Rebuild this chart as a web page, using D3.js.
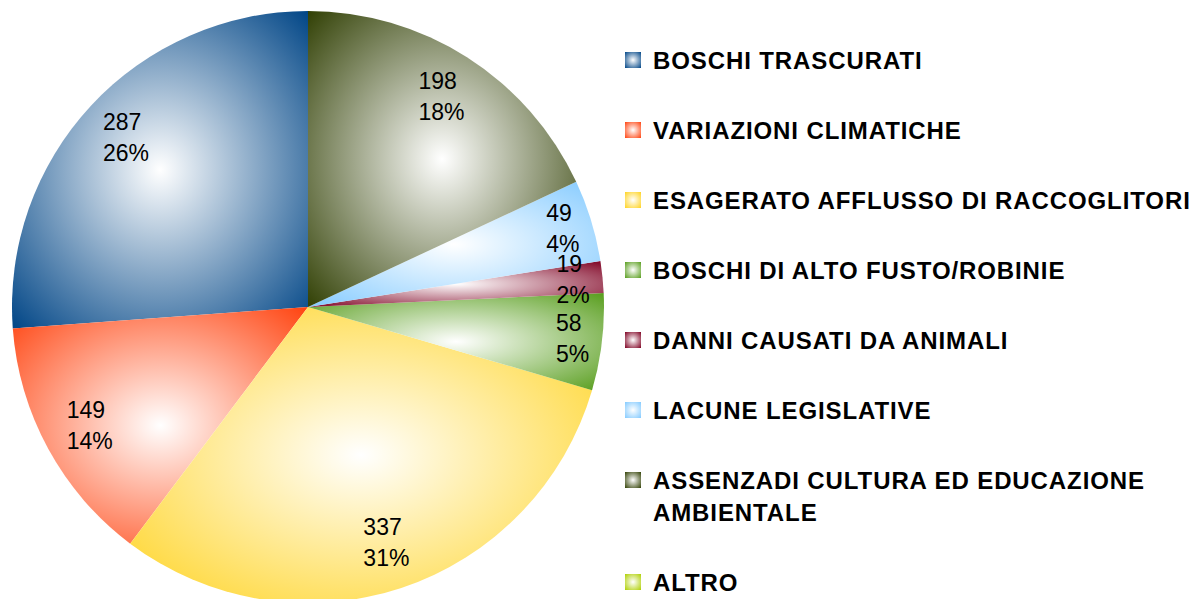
<!DOCTYPE html>
<html>
<head>
<meta charset="utf-8">
<script src="https://cdn.jsdelivr.net/npm/d3@7"></script>
<style>
  body { margin: 0; background: #fff; }
  svg { display: block; }
</style>
</head>
<body>
<div id="chart"></div>
<script>
// categories in legend order
const categories = [
    ['BOSCHI TRASCURATI'],
    ['VARIAZIONI CLIMATICHE'],
    ['ESAGERATO AFFLUSSO DI RACCOGLITORI'],
    ['BOSCHI DI ALTO FUSTO/ROBINIE'],
    ['DANNI CAUSATI DA ANIMALI'],
    ['LACUNE LEGISLATIVE'],
    ['ASSENZADI CULTURA ED EDUCAZIONE', 'AMBIENTALE'],
    ['ALTRO']
];
const values = [287, 149, 337, 58, 19, 49, 198, 0];
const colors = ['#004586', '#ff420e', '#ffd320', '#579d1c', '#7e0021', '#83caff', '#314004', '#aecf00'];

drawPie('#chart');

function drawPie(el) {
    const pageWidth = 1200;
    const pageHeight = 599;
    const cx = 308, cy = 307, radius = 296;
    const legendX = 625, legendTop = 60, legendStep = 70, lineStep = 32;

    const svg = d3.select(el).append('svg')
        .attr('width', pageWidth)
        .attr('height', pageHeight);

    const defs = svg.append('defs');
    colors.forEach((c, i) => {
        const g = defs.append('radialGradient')
            .attr('id', 'grad' + i)
            .attr('cx', '50%').attr('cy', '50%').attr('r', '70.7%');
        g.append('stop').attr('offset', '0%').attr('stop-color', '#ffffff');
        g.append('stop').attr('offset', '100%').attr('stop-color', c);
    });

    const total = d3.sum(values);
    const data = values.map((v, i) => ({ value: v, index: i }));

    // counterclockwise from 12 o'clock
    const pie = d3.pie().value(d => d.value).sort(null)
        .startAngle(0).endAngle(-2 * Math.PI);
    const arcs = pie(data);

    const arc = d3.arc().innerRadius(0).outerRadius(radius);

    const g = svg.append('g').attr('transform', 'translate(' + cx + ',' + cy + ')');

    g.selectAll('path.slice')
        .data(arcs.filter(d => d.data.value > 0))
        .enter().append('path')
        .attr('class', 'slice')
        .attr('d', arc)
        .attr('fill', d => 'url(#grad' + d.data.index + ')');

    // small slices get their labels a bit further out
    const labelArc = d => {
        const r = d.data.value / total < 0.1 ? radius * 0.9 : radius * 0.84;
        return d3.arc().innerRadius(r).outerRadius(r).centroid(d);
    };

    const labels = g.selectAll('text.lbl')
        .data(arcs.filter(d => d.data.value > 0))
        .enter().append('text')
        .attr('class', 'lbl')
        .style('font-family', '"Liberation Sans", Arial, sans-serif')
        .style('font-size', '23px')
        .attr('fill', '#000');

    labels.each(function(d) {
        const p = labelArc(d);
        const t = d3.select(this);
        t.append('tspan').attr('x', 0).attr('y', p[1] - 8).text(d.data.value);
        t.append('tspan').attr('x', 0).attr('y', p[1] + 23).text(Math.round(d.data.value / total * 100) + '%');
        const w = this.getBBox().width;
        t.selectAll('tspan').attr('x', p[0] - w / 2);
    });

    // legend
    const yPos = [];
    let y = legendTop;
    categories.forEach(lines => {
        yPos.push(y);
        y += legendStep + (lines.length - 1) * lineStep;
    });

    const legend = svg.append('g').selectAll('g')
        .data(categories)
        .enter().append('g')
        .attr('transform', (d, i) => 'translate(' + legendX + ',' + yPos[i] + ')');

    legend.append('rect')
        .attr('x', 0).attr('y', -8)
        .attr('width', 16).attr('height', 16)
        .attr('fill', (d, i) => 'url(#grad' + i + ')');

    legend.append('text')
        .style('font-family', '"Liberation Sans", Arial, sans-serif')
        .style('font-size', '24px')
        .style('font-weight', 'bold')
        .style('letter-spacing', '0.9px')
        .selectAll('tspan')
        .data(d => d)
        .enter().append('tspan')
        .attr('x', 28)
        .attr('y', (d, j) => 8.5 + j * lineStep)
        .text(d => d);
}
</script>
</body>
</html>
